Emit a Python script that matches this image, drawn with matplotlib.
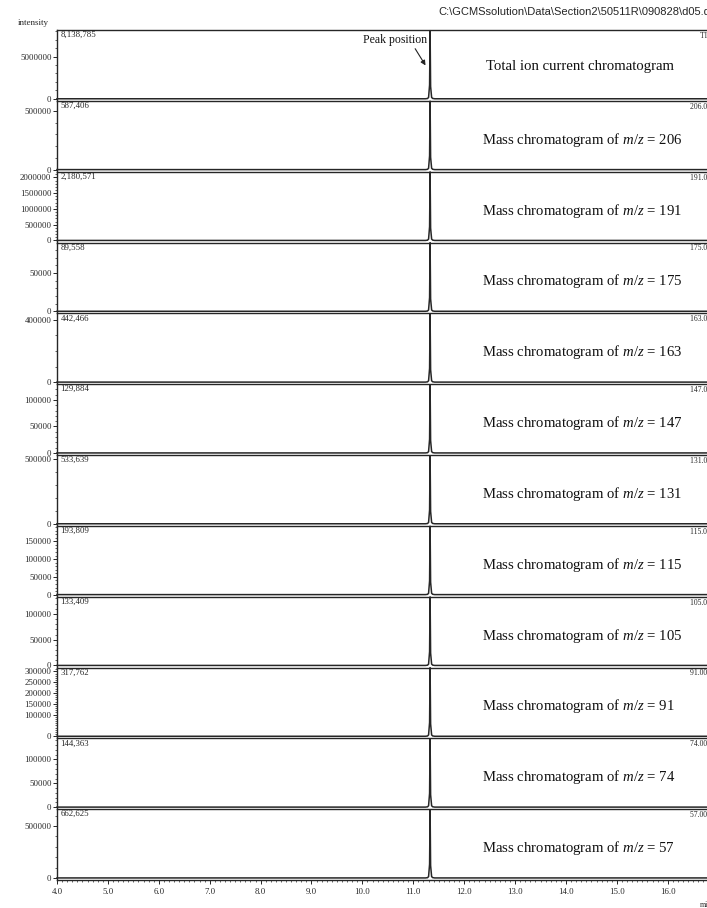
import matplotlib
matplotlib.use("Agg")
import matplotlib.pyplot as plt
from matplotlib.ticker import FixedLocator, MultipleLocator

# Channels shown, top to bottom
channel_names = ["TIC", "206", "191", "175", "163", "147", "131", "115", "105", "91", "74", "57"]
channel_tags = ["TIC (1.00)", "206.00 (1.00)", "191.00 (1.00)", "175.00 (1.00)", "163.00 (1.00)",
                "147.00 (1.00)", "131.00 (1.00)", "115.00 (1.00)", "105.00 (1.00)", "91.00 (1.00)",
                "74.00 (1.00)", "57.00 (1.00)"]
max_intensity = [8138785, 587406, 2180571, 89558, 442466, 129884, 533639,
                 193809, 133409, 317762, 144363, 662625]
y_ticks = [
    [0, 5000000],
    [0, 500000],
    [0, 500000, 1000000, 1500000, 2000000],
    [0, 50000],
    [0, 400000],
    [0, 50000, 100000],
    [0, 500000],
    [0, 50000, 100000, 150000],
    [0, 50000, 100000],
    [0, 100000, 150000, 200000, 250000, 300000],
    [0, 50000, 100000],
    [0, 500000],
]
y_minor_step = [1000000, 100000, 100000, 10000, 100000, 10000, 100000,
                10000, 10000, 10000, 10000, 100000]

# Retention time (min) and relative signal of the single eluting peak
retention_time = [4.0, 11.24, 11.28, 11.30, 11.32, 11.33, 11.34, 11.36, 11.38, 11.42, 17.3]
relative_signal = [0.0, 0.0, 0.004, 0.02, 0.2, 1.0, 0.18, 0.02, 0.005, 0.0, 0.0]

x_ticks = [4.0, 5.0, 6.0, 7.0, 8.0, 9.0, 10.0, 11.0, 12.0, 13.0, 14.0, 15.0, 16.0]
file_path = r"C:\GCMSsolution\Data\Section2\50511R\090828\d05.qgd"

plt.rcParams["mathtext.fontset"] = "custom"
plt.rcParams["mathtext.it"] = "Liberation Serif:italic"
plt.rcParams["mathtext.rm"] = "Liberation Serif"
plt.rcParams["mathtext.default"] = "it"

W, H = 707, 908
fig = plt.figure(figsize=(W / 100, H / 100), dpi=100)
fig.patch.set_facecolor("white")

serif = ["Liberation Serif", "DejaVu Serif"]
ink = "#262626"

left_px, right_px = 57, 730
top_px, bottom_px = 30, 880
px_per_min = 50.9
x_min = 4.0
x_max = x_min + (right_px - left_px) / px_per_min
n = len(channel_names)
panel_h = (bottom_px - top_px) / n

axes = []
for i in range(n):
    y_top = top_px + i * panel_h
    ax = fig.add_axes([left_px / W, 1 - (y_top + panel_h) / H,
                       (right_px - left_px) / W, panel_h / H])
    axes.append(ax)
    peak = max_intensity[i]
    trace = [r * peak for r in relative_signal]
    ax.plot(retention_time, trace, color=ink, lw=1.1, solid_joinstyle="miter", clip_on=False)
    ax.set_xlim(x_min, x_max)
    ax.set_ylim(-0.03 * peak, peak)

    ax.spines["right"].set_visible(False)
    if i < n - 1:
        ax.spines["bottom"].set_visible(False)
    for side in ("left", "top", "bottom"):
        ax.spines[side].set_color(ink)
        ax.spines[side].set_linewidth(1.0)

    ax.yaxis.set_major_locator(FixedLocator(y_ticks[i]))
    ax.yaxis.set_minor_locator(MultipleLocator(y_minor_step[i]))
    ax.set_yticklabels([str(v) for v in y_ticks[i]], fontfamily=serif, fontsize=6.3, color=ink)
    ax.tick_params(axis="y", which="major", length=3, width=0.7, color=ink, pad=1)
    ax.tick_params(axis="y", which="minor", length=1.6, width=0.5, color=ink)

    ax.xaxis.set_major_locator(FixedLocator(x_ticks))
    ax.xaxis.set_minor_locator(MultipleLocator(0.1))
    if i < n - 1:
        ax.tick_params(axis="x", which="both", bottom=False, labelbottom=False)
    else:
        ax.set_xticklabels([f"{v:.1f}" for v in x_ticks], fontfamily=serif, fontsize=6.3, color=ink)
        ax.tick_params(axis="x", which="major", length=3, width=0.7, color=ink, pad=3)
        ax.tick_params(axis="x", which="minor", length=1.6, width=0.5, color=ink)

    # maximum intensity in the window
    ax.text(0.005, 0.985, f"{peak:,}", transform=ax.transAxes, ha="left", va="top",
            fontfamily=serif, fontsize=6.3, color=ink)
    # channel tag at upper right
    tag_x = (690 - left_px) / (right_px - left_px) if i else (700 - left_px) / (right_px - left_px)
    ax.text(tag_x, 0.985, channel_tags[i], transform=ax.transAxes, ha="left", va="top",
            fontfamily=serif, fontsize=5.5, color=ink)

    if i == 0:
        ax.text(0.637, 0.48, "Total ion current chromatogram", transform=ax.transAxes,
                ha="left", va="center", fontfamily=serif, fontsize=10.6, color="#111")
    else:
        ax.text(0.631, 0.45, f"Mass chromatogram of $m/z$ = {channel_names[i]}",
                transform=ax.transAxes, ha="left", va="center",
                fontfamily=serif, fontsize=10.6, color="#111")

# Peak position callout on the TIC panel
ax0 = axes[0]
ax0.annotate("Peak position", xy=(11.24, 0.50), xycoords=ax0.get_xaxis_transform(),
             xytext=(11.28, 0.86), textcoords=ax0.get_xaxis_transform(),
             ha="right", va="center", fontfamily=serif, fontsize=8.5, color="#111",
             arrowprops=dict(arrowstyle="-|>", color="#222", lw=0.8,
                             shrinkA=0, shrinkB=0, mutation_scale=7,
                             relpos=(0.78, 0.0)))

fig.text(18 / W, 1 - 23 / H, "intensity", ha="left", va="center",
         fontfamily=serif, fontsize=6.5, color=ink)
fig.text(438 / W, 1 - 12 / H, file_path, ha="left", va="center",
         fontfamily=["Liberation Sans", "DejaVu Sans"], fontsize=8.0, color=ink)
fig.text(700 / W, 1 - 905 / H, "min", ha="left", va="center",
         fontfamily=serif, fontsize=5.5, color=ink)

fig.savefig("out.png", dpi=100, facecolor="white")
